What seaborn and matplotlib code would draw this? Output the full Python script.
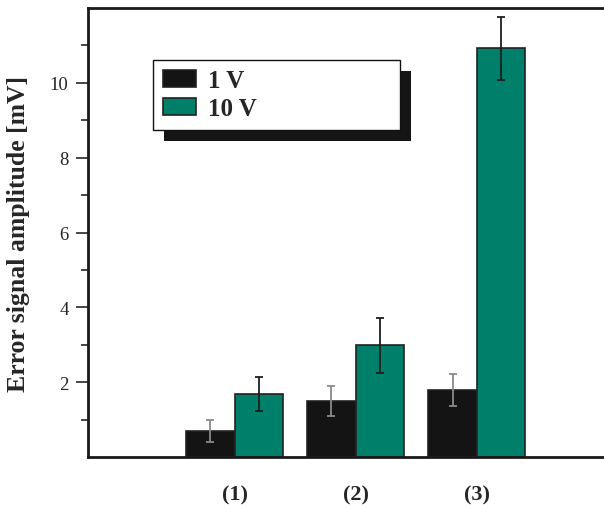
import matplotlib
matplotlib.use("Agg")
import matplotlib.pyplot as plt
from matplotlib.patches import Rectangle
import numpy as np
import pandas as pd
import seaborn as sns

# values
conditions = ["(1)", "(2)", "(3)"]
voltages = ["1 V", "10 V"]
amp_1v = [0.70, 1.50, 1.79]
amp_10v = [1.68, 2.98, 10.92]
err_1v = [0.29, 0.41, 0.42]
err_10v = [0.45, 0.74, 0.85]
colors = ["#141414", "#00806a"]
err_colors = ["#8a8a8a", "#1e1e1e"]

df = pd.DataFrame({
    "cond": conditions * 2,
    "volt": [voltages[0]] * 3 + [voltages[1]] * 3,
    "amp": amp_1v + amp_10v,
    "err": err_1v + err_10v,
})

sns.set_style("white")
plt.rcParams["font.family"] = ["Liberation Serif", "DejaVu Serif"]

fig = plt.figure(figsize=(6.04, 5.06), dpi=100)
ax = fig.add_axes([88 / 604, 48 / 506, 516 / 604, 449 / 506])

sns.barplot(data=df, x="cond", y="amp", hue="volt", palette=colors,
            saturation=1, width=0.8, errorbar=None, edgecolor="#222222",
            linewidth=1.2, ax=ax)

# error bars at the bar centres seaborn picked
for cont, volt, ecol in zip(ax.containers, voltages, err_colors):
    sub = df[df.volt == volt]
    xs = [b.get_x() + b.get_width() / 2 for b in cont]
    hs = [b.get_height() for b in cont]
    ax.errorbar(xs, hs, yerr=sub["err"].values, fmt="none", ecolor=ecol,
                elinewidth=1.3, capsize=3.2, capthick=1.3, zorder=5)

ax.set_xlim(-1.21, 3.05)
ax.set_ylim(0, 12)
ax.set_yticks([2, 4, 6, 8, 10])
ax.set_yticks(np.arange(1, 12, 2), minor=True)
ax.tick_params(axis="y", which="major", direction="out", length=9, width=1.2,
               left=True, labelsize=13.5, pad=5)
ax.tick_params(axis="y", which="minor", direction="out", length=5, width=1.2,
               left=True)
ax.tick_params(axis="x", length=0, pad=20, labelsize=16)
for lab in ax.get_xticklabels():
    lab.set_fontweight("bold")

ax.set_xlabel("")
ax.set_ylabel("Error signal amplitude [mV]", fontsize=18.5, fontweight="bold")
ax.yaxis.set_label_coords(-0.112, 0.5)

for side in ["left", "bottom", "top"]:
    ax.spines[side].set_visible(True)
    ax.spines[side].set_color("#1a1a1a")
    ax.spines[side].set_linewidth(2)
ax.spines["right"].set_visible(False)

leg = ax.legend(loc="upper left", bbox_to_anchor=(0.126, 0.5, 0.479, 0.385),
                mode="expand", borderaxespad=0, frameon=True, fancybox=False,
                edgecolor="#111111", framealpha=1, handlelength=1.35,
                handleheight=0.7, handletextpad=0.45, labelspacing=0.2,
                borderpad=0.38, prop={"weight": "bold", "size": 18})
leg.get_frame().set_linewidth(1.0)
leg.set_zorder(10)

# drop shadow behind the legend box
fig.canvas.draw()
bb = leg.get_window_extent()
shadow = Rectangle((bb.x0 + 11, bb.y0 - 11), bb.width, bb.height,
                   transform=None, facecolor="#151515", edgecolor="none",
                   zorder=9)
ax.add_artist(shadow)

fig.savefig("out.png", dpi=100)
